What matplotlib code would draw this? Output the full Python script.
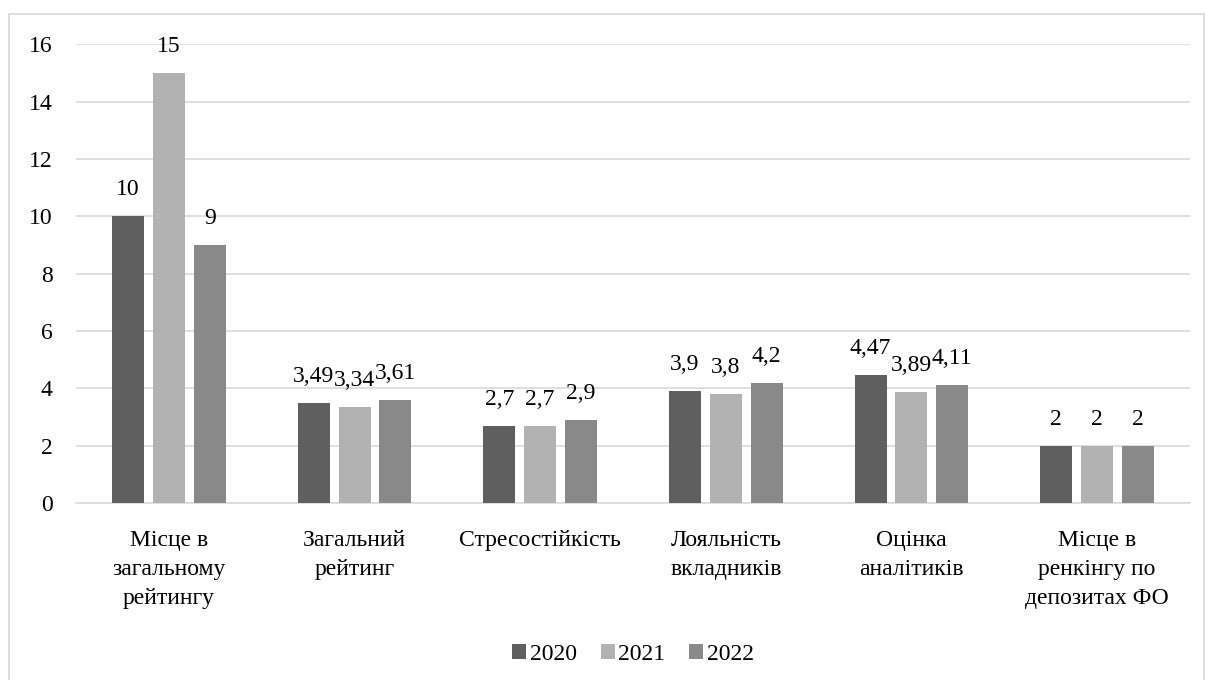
import numpy as np
import matplotlib
matplotlib.use('Agg')
from matplotlib import pyplot as plt
from matplotlib.patches import Rectangle

plt.rcParams['font.family'] = ['Liberation Serif', 'DejaVu Serif']

categories = ['Місце в\nзагальному\nрейтингу', 'Загальний\nрейтинг', 'Стресостійкість',
              'Лояльність\nвкладників', 'Оцінка\nаналітиків', 'Місце в\nренкінгу по\nдепозитах ФО']
years = ['2020', '2021', '2022']
v2020 = [10, 3.49, 2.7, 3.9, 4.47, 2]
v2021 = [15, 3.34, 2.7, 3.8, 3.89, 2]
v2022 = [9, 3.61, 2.9, 4.2, 4.11, 2]
colors = ['#5f5f5f', '#b2b2b2', '#898989']
FS = 17


def fmt(v):
    return ('%g' % v).replace('.', ',')


fig = plt.figure(figsize=(12.08, 6.8), dpi=100)
ax = fig.add_axes([0.063, 0.26, 0.922, 0.675])

x = np.arange(len(categories))
width = 0.172
step = 0.22
for i, (vals, c, lab) in enumerate(zip([v2020, v2021, v2022], colors, years)):
    pos = x + (i - 1) * step
    ax.bar(pos, vals, width, color=c, label=lab, zorder=3)
    for p, v in zip(pos, vals):
        ax.text(p, v + 0.56, fmt(v), ha='center', va='bottom', fontsize=FS, color='#000000')

ax.set_xlim(-0.5, len(categories) - 0.5)
ax.set_ylim(0, 16)
ax.set_yticks(np.arange(0, 17, 2))
ax.set_xticks(x)
ax.set_xticklabels(categories, fontsize=FS, linespacing=1.52)
ax.tick_params(axis='y', labelsize=FS, length=0, pad=17)
ax.tick_params(axis='x', length=0, pad=19)
ax.grid(axis='y', color='#d9d9d9', lw=1.2, zorder=0)
for s in ['left', 'right', 'top']:
    ax.spines[s].set_visible(False)
ax.spines['bottom'].set_color('#d9d9d9')
ax.spines['bottom'].set_linewidth(1.2)

ax.legend(loc='center', bbox_to_anchor=(0.5, -0.33), ncol=3, frameon=False, fontsize=FS,
          handlelength=0.6, handleheight=0.6, handletextpad=0.15, columnspacing=1.0)

# light frame round the whole chart
fig.patches.append(Rectangle((9 / 1208, -0.01), 1195 / 1208, 1 - 14 / 680 + 0.01,
                             transform=fig.transFigure, fill=False, edgecolor='#d9d9d9', lw=1.2))

fig.savefig('out.png', dpi=100)
